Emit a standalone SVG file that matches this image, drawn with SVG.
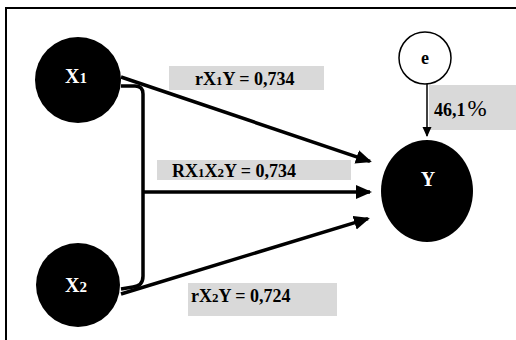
<svg xmlns="http://www.w3.org/2000/svg" width="516" height="340" viewBox="0 0 516 340">
<style>
.t{font-family:"Liberation Serif","Times New Roman",serif;font-weight:bold;font-size:18px;fill:#000}
.n{font-family:"Liberation Serif","Times New Roman",serif;font-weight:bold;font-size:20px;fill:#fff}
.s{font-size:13px}
.ns{font-size:15px}
.box{fill:#d9d9d9}
.c{stroke:#000;stroke-width:3.5;fill:none}
</style>
<defs>
<marker id="ah" markerUnits="userSpaceOnUse" markerWidth="18" markerHeight="16" refX="14" refY="7" orient="auto">
<path d="M0,0 L16,7 L0,14 z" fill="#000"/>
</marker>
<marker id="ahs" markerUnits="userSpaceOnUse" markerWidth="12" markerHeight="12" refX="9" refY="4.5" orient="auto">
<path d="M0,0 L10,4.5 L0,9 z" fill="#000"/>
</marker>
</defs>
<rect x="0" y="0" width="516" height="340" fill="#fff"/>
<path d="M6,341 L6,8 L517,8" fill="none" stroke="#000" stroke-width="2"/>
<g id="labels">
<rect class="box" x="169" y="66" width="155" height="24"/>
<text class="t" x="195" y="85">rX<tspan class="s">1</tspan>Y = 0,734</text>
<rect class="box" x="157" y="160" width="194" height="20"/>
<text class="t" x="172" y="177">RX<tspan class="s">1</tspan>X<tspan class="s">2</tspan>Y = 0,734</text>
<rect class="box" x="188" y="283" width="149" height="33"/>
<text class="t" x="191" y="302">rX<tspan class="s">2</tspan>Y = 0,724</text>
<rect class="box" x="429" y="85" width="87" height="45"/>
<text class="t" x="434" y="116">46,1<tspan font-weight="normal" font-size="23px" dx="2">%</tspan></text>
</g>
<g id="connectors">
<path class="c" d="M121,86 L135,86 Q143,86 143,94 L143,276 Q143,286 133,287 L121,289" stroke-width="3"/>
<line class="c" x1="121" y1="77" x2="370" y2="161.3" marker-end="url(#ah)"/>
<line class="c" x1="143" y1="192" x2="370" y2="192" marker-end="url(#ah)"/>
<line class="c" x1="121" y1="294" x2="368" y2="218.6" marker-end="url(#ah)"/>
<line x1="427" y1="84" x2="427" y2="136" stroke="#000" stroke-width="1.5" marker-end="url(#ahs)"/>
</g>
<g id="X1">
<circle cx="78" cy="80" r="43" fill="#000"/>
<text class="n" x="65" y="83">X<tspan class="ns">1</tspan></text>
</g>
<g id="X2">
<circle cx="78" cy="285" r="42" fill="#000"/>
<text class="n" x="65" y="292">X<tspan class="ns">2</tspan></text>
</g>
<g id="Y">
<ellipse cx="427" cy="191" rx="46" ry="51" fill="#000"/>
<text class="n" x="428" y="186" text-anchor="middle">Y</text>
</g>
<g id="e">
<circle cx="425" cy="58" r="26" fill="#fff" stroke="#000" stroke-width="1.5"/>
<text class="t" x="425" y="64" text-anchor="middle" font-size="17px">e</text>
</g>
</svg>
